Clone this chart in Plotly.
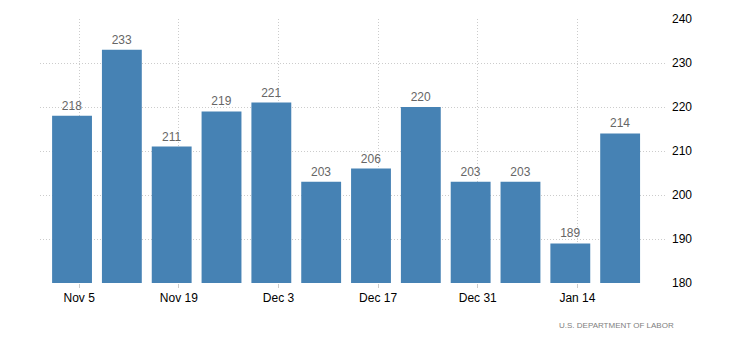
import plotly.graph_objects as go

dates = ["2017-11-04", "2017-11-11", "2017-11-18", "2017-11-25", "2017-12-02", "2017-12-09",
         "2017-12-16", "2017-12-23", "2017-12-30", "2018-01-06", "2018-01-13", "2018-01-20"]
values = [218, 233, 211, 219, 221, 203, 206, 220, 203, 203, 189, 214]
tick_dates = ["2017-11-05", "2017-11-19", "2017-12-03", "2017-12-17", "2017-12-31", "2018-01-14"]
tick_labels = ["Nov 5", "Nov 19", "Dec 3", "Dec 17", "Dec 31", "Jan 14"]
y_ticks = [180, 190, 200, 210, 220, 230, 240]

FONT = "Liberation Sans"

fig = go.Figure(go.Bar(
    x=dates, y=values,
    marker=dict(color="#4682B4", line=dict(width=0)),
    text=[str(v) for v in values],
    textposition="outside",
    textfont=dict(family=FONT, size=12, color="#666666"),
    cliponaxis=False,
))

fig.update_layout(
    width=730, height=351,
    margin=dict(l=40, r=63, t=19, b=68),
    paper_bgcolor="white", plot_bgcolor="white",
    bargap=0.2,
    showlegend=False,
    font=dict(family=FONT, size=12, color="#000"),
    annotations=[dict(
        text="U.S. DEPARTMENT OF LABOR", xref="paper", yref="paper",
        x=1.014, y=-0.135, xanchor="right", yanchor="top", showarrow=False,
        font=dict(family=FONT, size=8, color="#808080"),
    )],
)
fig.update_xaxes(
    type="date",
    range=["2017-10-30 12:00", "2018-01-26 14:00"],
    tickvals=tick_dates, ticktext=tick_labels,
    showgrid=True, gridcolor="#cccccc", griddash="1px,2px", gridwidth=1,
    ticks="outside", ticklen=4, tickcolor="#cccccc",
    showline=False, zeroline=False,
    tickfont=dict(family=FONT, size=12, color="#000"),
)
fig.update_yaxes(
    range=[180, 240], side="right",
    tickvals=y_ticks,
    showgrid=True, gridcolor="#cccccc", griddash="1px,2px", gridwidth=1,
    zeroline=False, showline=False, ticks="",
    ticklabelstandoff=4,
    tickfont=dict(family=FONT, size=12, color="#000"),
)

fig.write_html("out.html")
